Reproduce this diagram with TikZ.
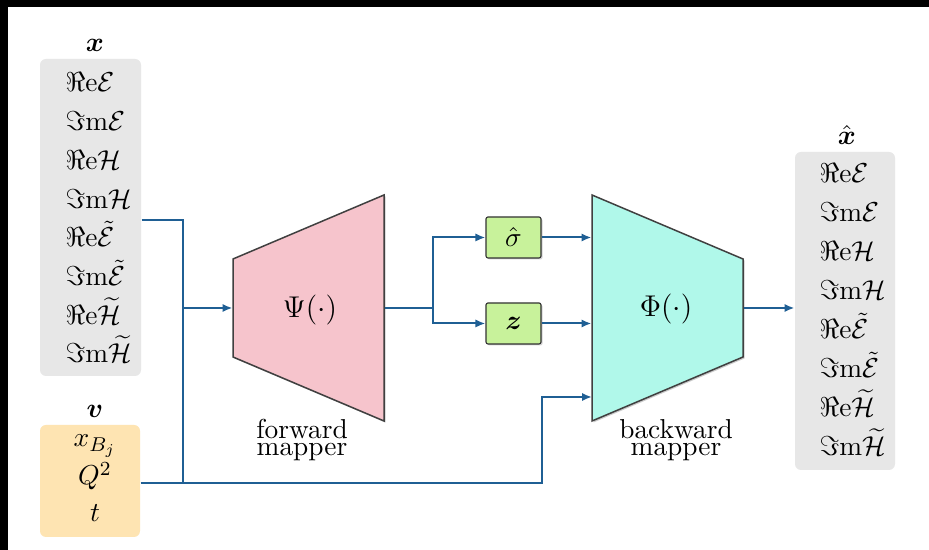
\documentclass[tikz,border=0pt]{standalone}
\usepackage{amsmath,amssymb}
\usetikzlibrary{arrows.meta,fit,shadows}
\definecolor{boxgray}{RGB}{231,231,231}
\definecolor{vorange}{RGB}{254,228,178}
\definecolor{fpink}{RGB}{246,196,204}
\definecolor{baqua}{RGB}{176,248,234}
\definecolor{lgreen}{RGB}{200,242,155}
\definecolor{lineblue}{RGB}{31,95,148}
\begin{document}
\begin{tikzpicture}[x=0.4pt,y=-0.4pt,
  font=\fontsize{10.95}{6.8}\selectfont,
  panel/.style={inner sep=0pt, rounded corners=2.4pt, draw=none},
  entry/.style={anchor=base west, inner sep=0pt},
  cent/.style={anchor=base, inner sep=0pt},
  conn/.style={draw=lineblue, line width=0.8pt},
  arr/.style={conn, -{Latex[length=4pt,width=3.3pt]}},
  latent/.style={fill=lgreen, draw=black!80, line width=0.45pt, rounded corners=0.8pt, inner sep=0pt,
    minimum width=22pt, minimum height=16.4pt,
    drop shadow={shadow xshift=0.6pt, shadow yshift=-0.6pt, opacity=0.35}},
  mapper/.style={draw=black!75, line width=0.6pt},
  mshadow/.style={fill=black!45, opacity=0.45},
  fnlab/.style={inner sep=0pt, font=\fontsize{12}{14}\selectfont},
  caption/.style={align=center, inner sep=0pt}
]
\useasboundingbox (0,0) rectangle (929,550);
\fill[white] (0,0) rectangle (929,550);
\fill[black] (0,0) rectangle (929,7);
\fill[black] (0,0) rectangle (8,550);

% input panels
\node[panel, fill=boxgray, fit={(40,59)(141,376)}] (xbox) {};
\node[cent] (xlab) at (95,52) {$\boldsymbol{x}$};
\node[entry] (x1) at (65,92.0) {$\Re\mathrm{e}\mathcal{E}$};
\node[entry] (x2) at (65,130.7) {$\Im\mathrm{m}\mathcal{E}$};
\node[entry] (x3) at (65,169.4) {$\Re\mathrm{e}\mathcal{H}$};
\node[entry] (x4) at (65,208.1) {$\Im\mathrm{m}\mathcal{H}$};
\node[entry] (x5) at (65,246.8) {$\Re\mathrm{e}\tilde{\mathcal{E}}$};
\node[entry] (x6) at (65,285.5) {$\Im\mathrm{m}\tilde{\mathcal{E}}$};
\node[entry] (x7) at (65,324.2) {$\Re\mathrm{e}\widetilde{\mathcal{H}}$};
\node[entry] (x8) at (65,362.9) {$\Im\mathrm{m}\widetilde{\mathcal{H}}$};

\node[panel, fill=vorange, fit={(40,425)(140,537)}] (vbox) {};
\node[cent] (vlab) at (95,418) {$\boldsymbol{v}$};
\node[cent] (v1) at (95,447) {$x_{B_j}$};
\node[cent] (v2) at (95,485) {$Q^2$};
\node[cent] (v3) at (95,522) {$t$};

% forward mapper
\begin{scope}[shift={(1.5,1.5)}]
\fill[mshadow] (233,259) -- (384,195) -- (384,421) -- (233,357) -- cycle;
\end{scope}
\filldraw[mapper, fill=fpink] (233,259) -- (384,195) -- (384,421) -- (233,357) -- cycle;
\node[inner sep=0pt, fit={(233,195)(384,421)}] (fwd) {};
\node[fnlab] (psi) at (310,310) {$\Psi(\cdot)$};
\node[caption] (fcap) at (302,440) {forward\\mapper};

% latent boxes
\node[latent] (sig) at (513.5,237.5) {$\hat{\sigma}$};
\node[latent] (zb) at (513.5,323.5) {$\boldsymbol{z}$};

% backward mapper
\begin{scope}[shift={(1.5,1.5)}]
\fill[mshadow] (592,195) -- (743,259) -- (743,357) -- (592,421) -- cycle;
\end{scope}
\filldraw[mapper, fill=baqua] (592,195) -- (743,259) -- (743,357) -- (592,421) -- cycle;
\node[inner sep=0pt, fit={(592,195)(743,421)}] (bwd) {};
\node[fnlab] (phi) at (666,309) {$\Phi(\cdot)$};
\node[caption] (bcap) at (676,440) {backward\\mapper};

% output panel
\node[panel, fill=boxgray, fit={(795,152)(895,470)}] (xhat) {};
\node[cent] (xhlab) at (847,145) {$\hat{\boldsymbol{x}}$};
\node[entry] (y1) at (819,183.0) {$\Re\mathrm{e}\mathcal{E}$};
\node[entry] (y2) at (819,221.9) {$\Im\mathrm{m}\mathcal{E}$};
\node[entry] (y3) at (819,260.8) {$\Re\mathrm{e}\mathcal{H}$};
\node[entry] (y4) at (819,299.7) {$\Im\mathrm{m}\mathcal{H}$};
\node[entry] (y5) at (819,338.6) {$\Re\mathrm{e}\tilde{\mathcal{E}}$};
\node[entry] (y6) at (819,377.5) {$\Im\mathrm{m}\tilde{\mathcal{E}}$};
\node[entry] (y7) at (819,416.4) {$\Re\mathrm{e}\widetilde{\mathcal{H}}$};
\node[entry] (y8) at (819,455.3) {$\Im\mathrm{m}\widetilde{\mathcal{H}}$};

% connectors
\coordinate (jbot) at (183,483);
\coordinate (split) at (433,308);
\coordinate (bend) at (542,440);
\coordinate (vin) at (592,397);
\draw[conn] (xbox.east |- 0,220) -| (jbot);
\draw[arr] (vbox.east |- jbot) -- (jbot) -| (bend) |- (vin);
\draw[arr] (jbot |- fwd.west) -- (fwd.west);
\draw[conn] (fwd.east) -- (split);
\draw[arr] (split) |- (sig.west);
\draw[arr] (split) |- (zb.west);
\draw[arr] (sig.east) -- (sig.east -| bwd.west);
\draw[arr] (zb.east) -- (zb.east -| bwd.west);
\draw[arr] (bwd.east) -- (bwd.east -| xhat.west);
\end{tikzpicture}
\end{document}
